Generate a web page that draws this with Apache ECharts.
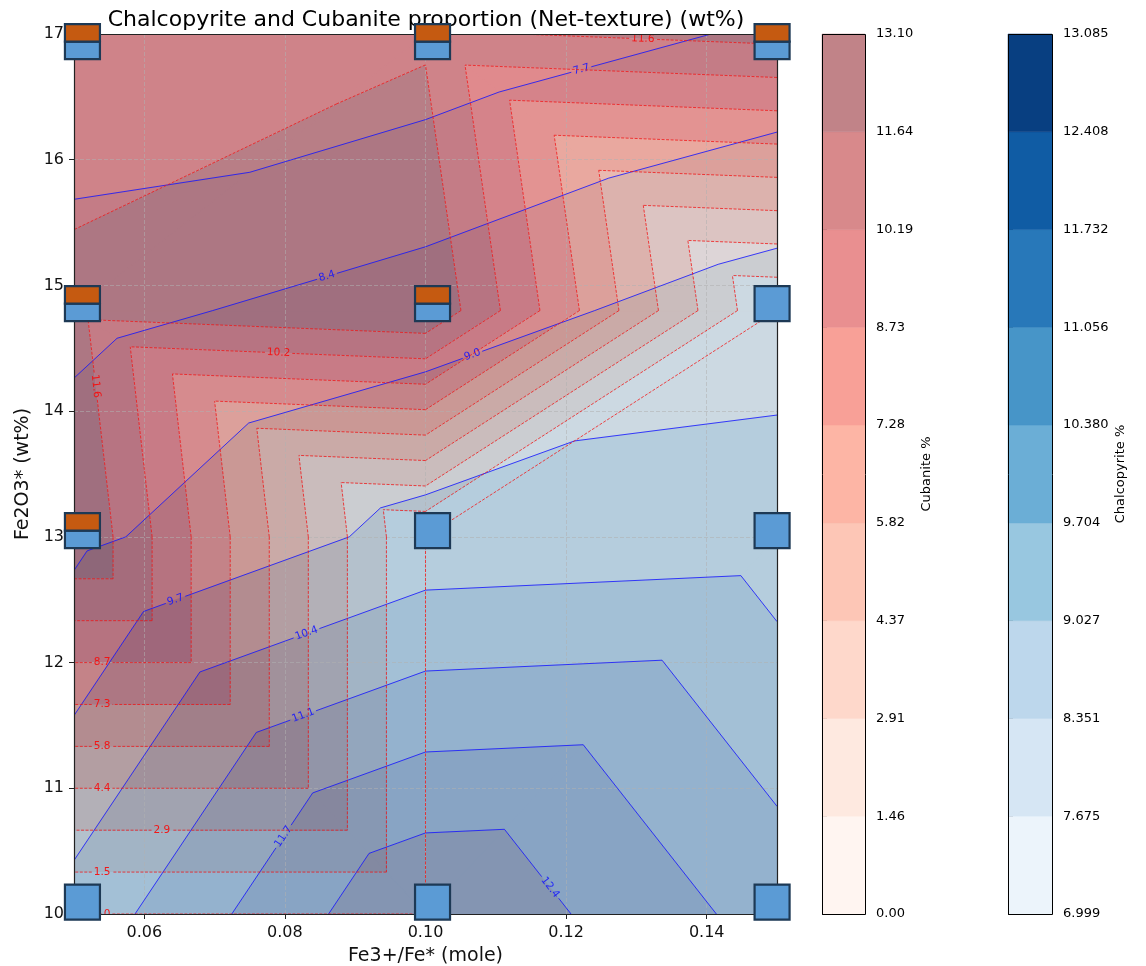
<!DOCTYPE html>
<html>
<head>
<meta charset="utf-8">
<script src="https://cdn.jsdelivr.net/npm/echarts@6/dist/echarts.min.js"></script>
<style>
html,body{margin:0;padding:0;background:#fff;}
#chart{width:1146px;height:966px;}
</style>
</head>
<body>
<div id="chart"></div>
<script>
// ================= DATA =================
// interpolation grid (Fe3+/Fe* columns, Fe2O3* rows, bottom -> top)
const fe3Grid = [0.05, 0.10, 0.15];
const fe2o3Grid = [10, 13, 14.8, 17];
// Cubanite wt% at grid nodes (rows follow fe2o3Grid, columns follow fe3Grid)
const cubaniteRow10 = [0.00, 0.00, 0.00];
const cubaniteRow13 = [13.10, 0.00, 0.00];
const cubaniteRow15 = [12.13, 12.95, 0.00];
const cubaniteRow17 = [10.47, 11.48, 12.09];
// Chalcopyrite wt% at grid nodes
const chalcoRow10 = [10.63, 13.085, 11.45];
const chalcoRow13 = [8.87, 9.935, 10.07];
const chalcoRow15 = [8.13, 8.69, 9.39];
const chalcoRow17 = [6.999, 7.22, 7.78];
// sample positions as plotted (markers)
const sampleFe3 = [0.0512, 0.101, 0.1493];
const sampleFe2o3 = [10.095, 13.05, 14.855, 16.94];
// triangulation of each grid cell [row][col]: 'anti' = top-left to bottom-right diagonal
const cellDiagonals = [['anti', 'main'], ['anti', 'main'], ['main', 'anti']];
// contour levels
const cubLevels = [0, 1.456, 2.911, 4.367, 5.822, 7.278, 8.733, 10.189, 11.644, 13.10];
const chalLevels = [6.999, 7.675, 8.351, 9.027, 9.704, 10.380, 11.056, 11.732, 12.408, 13.085];
// colorbar tick labels
const cubTickLabels = ['0.00', '1.46', '2.91', '4.37', '5.82', '7.28', '8.73', '10.19', '11.64', '13.10'];
const chalTickLabels = ['6.999', '7.675', '8.351', '9.027', '9.704', '10.380', '11.056', '11.732', '12.408', '13.085'];
// contour line labels
const cubLineLabels = ['0', '1.5', '2.9', '4.4', '5.8', '7.3', '8.7', '10.2', '11.6', ''];
const chalLineLabels = ['', '7.7', '8.4', '9.0', '9.7', '10.4', '11.1', '11.7', '12.4', ''];
// x axis tick values
const xTickValues = [0.06, 0.08, 0.10, 0.12, 0.14];

const cubaniteGrid = [cubaniteRow10, cubaniteRow13, cubaniteRow15, cubaniteRow17];
const chalcoGrid = [chalcoRow10, chalcoRow13, chalcoRow15, chalcoRow17];

// ================= LAYOUT / STYLE =================
const FONT = 'DejaVu Sans';
// label spots: [levelIndex, approx x, approx y] (snapped onto the contour)
const cubLabelSpots = [[8, 0.0533, 14.2], [8, 0.1309, 16.95], [7, 0.0791, 14.46], [6, 0.054, 11.99],
  [5, 0.054, 11.67], [4, 0.054, 11.33], [3, 0.054, 11.0], [2, 0.0625, 10.67], [1, 0.054, 10.34], [0, 0.0547, 10.0]];
const chalLabelSpots = [[1, 0.1222, 16.71], [2, 0.086, 15.07], [3, 0.1066, 14.46], [4, 0.0645, 12.49],
  [5, 0.0831, 12.23], [6, 0.0826, 11.58], [7, 0.0797, 10.62], [8, 0.1177, 10.21]];

const redsStops = ['#fff5f0', '#fee0d2', '#fcbba1', '#fc9272', '#fb6a4a', '#ef3b2c', '#cb181d', '#a50f15', '#67000d'];
const bluesStops = ['#f7fbff', '#deebf7', '#c6dbef', '#9ecae1', '#6baed6', '#4292c6', '#2171b5', '#08519c', '#08306b'];
function hexRgb(h) { return [parseInt(h.slice(1, 3), 16), parseInt(h.slice(3, 5), 16), parseInt(h.slice(5, 7), 16)]; }
function cmap(stops, t) {
  const n = stops.length - 1, f = t * n;
  const i = Math.min(Math.floor(f), n - 1), u = f - i;
  const a = hexRgb(stops[i]), b = hexRgb(stops[i + 1]);
  return a.map((v, m) => v + (b[m] - v) * u);
}
function bandColors(stops, nb, alpha, onWhite) {
  const out = [];
  for (let k = 0; k < nb; k++) {
    const c = cmap(stops, (k + 0.5) / nb);
    if (onWhite) {
      const w = c.map(v => Math.round(alpha * v + (1 - alpha) * 255));
      out.push('rgb(' + w.join(',') + ')');
    } else {
      out.push('rgba(' + c.map(Math.round).join(',') + ',' + alpha + ')');
    }
  }
  return out;
}
const RED_ALPHA = 0.5;
const redFill = bandColors(redsStops, 9, RED_ALPHA, false);
const blueFill = bandColors(bluesStops, 9, 1, true);
const redBar = bandColors(redsStops, 9, RED_ALPHA, true);
const blueBar = bandColors(bluesStops, 9, 1, true);

// ================= GEOMETRY HELPERS =================
const triangles = [];
for (let j = 0; j < fe2o3Grid.length - 1; j++) {
  for (let i = 0; i < fe3Grid.length - 1; i++) {
    const a = [i, j], b = [i + 1, j], c = [i + 1, j + 1], d = [i, j + 1];
    if (cellDiagonals[j][i] === 'anti') { triangles.push([a, b, d]); triangles.push([b, c, d]); }
    else { triangles.push([a, b, c]); triangles.push([a, c, d]); }
  }
}
function triPoints(tri, field) { return tri.map(([i, j]) => [fe3Grid[i], fe2o3Grid[j], field[j][i]]); }
function clipPoly(poly, level, keepAbove) {
  const out = [], n = poly.length;
  for (let k = 0; k < n; k++) {
    const P = poly[k], Q = poly[(k + 1) % n];
    const pin = keepAbove ? P[2] >= level : P[2] <= level;
    const qin = keepAbove ? Q[2] >= level : Q[2] <= level;
    if (pin) out.push(P);
    if (pin !== qin) {
      const t = (level - P[2]) / (Q[2] - P[2]);
      out.push([P[0] + t * (Q[0] - P[0]), P[1] + t * (Q[1] - P[1]), level]);
    }
  }
  return out;
}
function levelSegments(field, L) {
  const segs = [];
  for (const tri of triangles) {
    const pts = triPoints(tri, field);
    const s = pts.map(p => p[2] - L);
    const zeros = s.filter(v => v === 0).length;
    if (zeros === 3) continue;
    if (zeros === 2) {
      const z = [], other = [];
      pts.forEach((p, m) => (s[m] === 0 ? z : other).push(p));
      if (other[0][2] > L) segs.push([[z[0][0], z[0][1]], [z[1][0], z[1][1]]]);
      continue;
    }
    const cross = [];
    for (let m = 0; m < 3; m++) {
      const P = pts[m], Q = pts[(m + 1) % 3], sp = s[m], sq = s[(m + 1) % 3];
      if (sp === 0) cross.push([P[0], P[1]]);
      if ((sp < 0 && sq > 0) || (sp > 0 && sq < 0)) {
        const t = sp / (sp - sq);
        cross.push([P[0] + t * (Q[0] - P[0]), P[1] + t * (Q[1] - P[1])]);
      }
    }
    if (cross.length === 2) segs.push(cross);
  }
  return segs;
}
function textWidth(txt, fs) {
  let w = 0;
  for (const ch of txt) w += (ch === '.' ? 0.318 : 0.636) * fs;
  return w;
}
function cutPieces(pieces, p, q, c) {
  const dx = q[0] - p[0], dy = q[1] - p[1];
  const fx = p[0] - c[0], fy = p[1] - c[1];
  const A = dx * dx + dy * dy, B = 2 * (fx * dx + fy * dy), C = fx * fx + fy * fy - c[2] * c[2];
  const disc = B * B - 4 * A * C;
  if (A === 0 || disc <= 0) return pieces;
  const sq = Math.sqrt(disc);
  const t1 = (-B - sq) / (2 * A), t2 = (-B + sq) / (2 * A);
  const out = [];
  for (const [a, b] of pieces) {
    if (b <= t1 || a >= t2) { out.push([a, b]); continue; }
    if (a < t1) out.push([a, t1]);
    if (b > t2) out.push([t2, b]);
  }
  return out;
}

// ================= RENDERERS =================
function bandRenderer(field, levels, colors, seamStroke) {
  return function (params, api) {
    const k = api.value(0);
    const lo = levels[k], hi = levels[k + 1];
    let d = '';
    for (const tri of triangles) {
      let poly = triPoints(tri, field);
      poly = clipPoly(poly, lo, true);
      if (poly.length < 3) continue;
      poly = clipPoly(poly, hi, false);
      if (poly.length < 3) continue;
      poly.forEach((p, m) => {
        const c = api.coord([p[0], p[1]]);
        d += (m ? 'L' : 'M') + c[0].toFixed(2) + ' ' + c[1].toFixed(2) + ' ';
      });
      d += 'Z ';
    }
    if (!d) return null;
    return {
      type: 'path', shape: { pathData: d },
      style: seamStroke ? { fill: colors[k], stroke: colors[k], lineWidth: 0.8 } : { fill: colors[k], stroke: null, lineWidth: 0 }
    };
  };
}
const LABEL_FS = 10.5;
function lineRenderer(field, levels, labels, spots, color, dash, width) {
  return function (params, api) {
    const k = api.value(0);
    const segs = levelSegments(field, levels[k]).map(s => [api.coord(s[0]), api.coord(s[1])]);
    if (!segs.length) return null;
    const children = [], cuts = [];
    for (const sp of spots) {
      if (sp[0] !== k) continue;
      const a = api.coord([sp[1], sp[2]]);
      let best = null;
      for (const [p, q] of segs) {
        const dx = q[0] - p[0], dy = q[1] - p[1];
        const A = dx * dx + dy * dy;
        let t = A > 0 ? ((a[0] - p[0]) * dx + (a[1] - p[1]) * dy) / A : 0;
        t = Math.max(0, Math.min(1, t));
        const x = p[0] + t * dx, y = p[1] + t * dy;
        const dist = (x - a[0]) ** 2 + (y - a[1]) ** 2;
        if (!best || dist < best.dist) best = { x, y, dist, dx, dy };
      }
      let ang = Math.atan2(best.dy, best.dx);
      if (ang > Math.PI / 2) ang -= Math.PI;
      if (ang <= -Math.PI / 2) ang += Math.PI;
      const txt = labels[k];
      children.push({
        type: 'text', x: best.x, y: best.y, rotation: -ang,
        style: { text: txt, fill: color, fontSize: LABEL_FS, fontFamily: FONT, align: 'center', verticalAlign: 'middle' }
      });
      cuts.push([best.x, best.y, textWidth(txt, LABEL_FS) / 2 + 2]);
    }
    let d = '';
    for (const [p, q] of segs) {
      let pieces = [[0, 1]];
      for (const c of cuts) pieces = cutPieces(pieces, p, q, c);
      for (const [t0, t1] of pieces) {
        if (t1 - t0 < 1e-6) continue;
        d += 'M' + (p[0] + t0 * (q[0] - p[0])).toFixed(2) + ' ' + (p[1] + t0 * (q[1] - p[1])).toFixed(2) +
          ' L' + (p[0] + t1 * (q[0] - p[0])).toFixed(2) + ' ' + (p[1] + t1 * (q[1] - p[1])).toFixed(2) + ' ';
      }
    }
    if (d) children.unshift({ type: 'path', shape: { pathData: d }, style: { stroke: color, lineWidth: width, lineDash: dash, fill: 'none' } });
    return { type: 'group', children };
  };
}
function colorbarRenderer(colors) {
  const nb = colors.length;
  return function (params, api) {
    const k = api.value(0);
    const p0 = api.coord([0, k]), p1 = api.coord([1, k + 1]);
    const children = [{
      type: 'rect', shape: { x: p0[0], y: p1[1], width: p1[0] - p0[0], height: p0[1] - p1[1] },
      style: { fill: colors[k], stroke: colors[k], lineWidth: 0.5 }
    }];
    if (k === nb - 1) {
      const a = api.coord([0, 0]), b = api.coord([1, nb]);
      children.push({
        type: 'rect', shape: { x: Math.round(a[0]) + 0.5, y: Math.round(b[1]) + 0.5, width: Math.round(b[0] - a[0]), height: Math.round(a[1] - b[1]) },
        style: { fill: 'none', stroke: '#000', lineWidth: 1 }
      });
    }
    return { type: 'group', children };
  };
}
const MARK = 35;
function markerRenderer(params, api) {
  const c = api.coord([api.value(0), api.value(1)]);
  const hasCub = api.value(2) > 0;
  const st = { stroke: '#1d3955', lineWidth: 2.2 };
  const x0 = c[0] - MARK / 2;
  if (!hasCub) {
    return { type: 'rect', shape: { x: x0, y: c[1] - MARK / 2, width: MARK, height: MARK }, style: Object.assign({ fill: '#5b9bd5' }, st) };
  }
  return {
    type: 'group', children: [
      { type: 'rect', shape: { x: x0, y: c[1], width: MARK, height: MARK / 2 }, style: Object.assign({ fill: '#5b9bd5' }, st) },
      { type: 'rect', shape: { x: x0, y: c[1] - MARK / 2, width: MARK, height: MARK / 2 }, style: Object.assign({ fill: '#c55a11' }, st) }
    ]
  };
}
function frameRenderer(params, api) {
  const a = api.coord([fe3Grid[0], fe2o3Grid[0]]);
  const b = api.coord([fe3Grid[fe3Grid.length - 1], fe2o3Grid[fe2o3Grid.length - 1]]);
  return {
    type: 'rect', shape: { x: Math.round(a[0]) + 0.5, y: Math.round(b[1]) + 0.5, width: Math.round(b[0] - a[0]), height: Math.round(a[1] - b[1]) },
    style: { fill: 'none', stroke: '#222', lineWidth: 1.2 }
  };
}

const bandIdx = [0, 1, 2, 3, 4, 5, 6, 7, 8].map(k => [k]);
const levelIdx = [0, 1, 2, 3, 4, 5, 6, 7, 8, 9].map(k => [k]);
const markerData = [];
for (let j = 0; j < sampleFe2o3.length; j++)
  for (let i = 0; i < sampleFe3.length; i++)
    markerData.push([sampleFe3[i], sampleFe2o3[j], cubaniteGrid[j][i]]);

const gridLine = { show: true, lineStyle: { color: 'rgba(176,176,176,0.55)', type: [4, 2], width: 1 } };

const option = {
  animation: false,
  backgroundColor: '#fff',
  textStyle: { fontFamily: FONT },
  title: {
    text: 'Chalcopyrite and Cubanite proportion (Net-texture) (wt%)',
    left: 421, top: 4, textAlign: 'center', z: 0,
    textStyle: { fontSize: 22, fontWeight: 'normal', color: '#000', fontFamily: FONT }
  },
  grid: [
    { left: 74, top: 34, width: 703, height: 880, outerBoundsMode: 'none', containLabel: false },
    { left: 822, top: 34, width: 43, height: 880, outerBoundsMode: 'none', containLabel: false },
    { left: 1008, top: 34, width: 44, height: 880, outerBoundsMode: 'none', containLabel: false }
  ],
  xAxis: [
    {
      gridIndex: 0, type: 'value', min: 0.05, max: 0.15, z: 3,
      axisLine: { show: false },
      axisTick: { show: true, customValues: xTickValues, length: 5, lineStyle: { color: '#222', width: 1 } },
      axisLabel: { customValues: xTickValues, formatter: v => v.toFixed(2), fontSize: 16, color: '#111', margin: 11, fontFamily: FONT },
      splitLine: gridLine,
      name: 'Fe3+/Fe* (mole)', nameLocation: 'middle', nameGap: 33,
      nameTextStyle: { fontSize: 19, color: '#111', fontFamily: FONT }
    },
    { gridIndex: 1, type: 'value', min: 0, max: 1, show: false },
    { gridIndex: 2, type: 'value', min: 0, max: 1, show: false }
  ],
  yAxis: [
    {
      gridIndex: 0, type: 'value', min: 10, max: 17, interval: 1, z: 3,
      axisLine: { show: false },
      axisTick: { show: true, length: 5, lineStyle: { color: '#222', width: 1 } },
      axisLabel: { fontSize: 16, color: '#111', margin: 10, fontFamily: FONT },
      splitLine: gridLine,
      name: 'Fe2O3* (wt%)', nameLocation: 'middle', nameGap: 29, nameRotate: 90,
      nameTextStyle: { fontSize: 19, color: '#111', fontFamily: FONT }
    },
    {
      gridIndex: 1, type: 'value', min: 0, max: 9, interval: 1, position: 'right',
      axisLine: { show: false },
      axisTick: { show: true, length: 5, lineStyle: { color: '#000', width: 1 } },
      axisLabel: { formatter: v => cubTickLabels[Math.round(v)], fontSize: 13, color: '#000', margin: 11, fontFamily: FONT },
      splitLine: { show: false },
      name: 'Cubanite %', nameLocation: 'middle', nameGap: 55, nameRotate: 90,
      nameTextStyle: { fontSize: 13, color: '#000', fontFamily: FONT }
    },
    {
      gridIndex: 2, type: 'value', min: 0, max: 9, interval: 1, position: 'right',
      axisLine: { show: false },
      axisTick: { show: true, length: 5, lineStyle: { color: '#000', width: 1 } },
      axisLabel: { formatter: v => chalTickLabels[Math.round(v)], fontSize: 13, color: '#000', margin: 11, fontFamily: FONT },
      splitLine: { show: false },
      name: 'Chalcopyrite %', nameLocation: 'middle', nameGap: 62, nameRotate: 90,
      nameTextStyle: { fontSize: 13, color: '#000', fontFamily: FONT }
    }
  ],
  series: [
    { type: 'custom', name: 'Chalcopyrite fill', xAxisIndex: 0, yAxisIndex: 0, clip: true, z: 1, silent: true,
      data: bandIdx, renderItem: bandRenderer(chalcoGrid, chalLevels, blueFill, true) },
    { type: 'custom', name: 'Cubanite fill', xAxisIndex: 0, yAxisIndex: 0, clip: true, z: 2, silent: true,
      data: bandIdx, renderItem: bandRenderer(cubaniteGrid, cubLevels, redFill, false) },
    { type: 'custom', name: 'Chalcopyrite lines', xAxisIndex: 0, yAxisIndex: 0, clip: true, z: 4, silent: true,
      data: levelIdx, renderItem: lineRenderer(chalcoGrid, chalLevels, chalLineLabels, chalLabelSpots, 'rgba(20,20,255,0.9)', null, 0.9) },
    { type: 'custom', name: 'Cubanite lines', xAxisIndex: 0, yAxisIndex: 0, clip: true, z: 4, silent: true,
      data: levelIdx, renderItem: lineRenderer(cubaniteGrid, cubLevels, cubLineLabels, cubLabelSpots, 'rgba(245,15,15,0.95)', [3, 1.5], 0.8) },
    { type: 'custom', name: 'frame', xAxisIndex: 0, yAxisIndex: 0, z: 5, silent: true,
      data: [[0]], renderItem: frameRenderer },
    { type: 'custom', name: 'samples', xAxisIndex: 0, yAxisIndex: 0, clip: false, z: 10, silent: true,
      data: markerData, renderItem: markerRenderer },
    { type: 'custom', name: 'Cubanite bar', xAxisIndex: 1, yAxisIndex: 1, z: 2, silent: true,
      data: bandIdx, renderItem: colorbarRenderer(redBar) },
    { type: 'custom', name: 'Chalcopyrite bar', xAxisIndex: 2, yAxisIndex: 2, z: 2, silent: true,
      data: bandIdx, renderItem: colorbarRenderer(blueBar) }
  ]
};
const chart = echarts.init(document.getElementById('chart'), null, { renderer: 'canvas' });
chart.setOption(option);
</script>
</body>
</html>
